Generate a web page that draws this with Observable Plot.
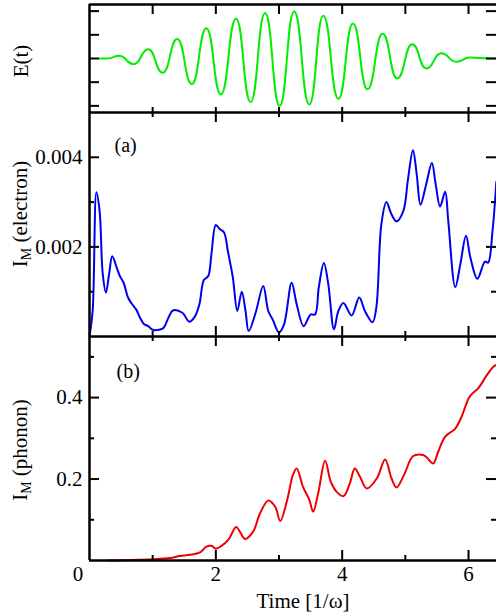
<!DOCTYPE html>
<html>
<head>
<meta charset="utf-8">
<script src="https://cdn.jsdelivr.net/npm/d3@7"></script>
<script src="https://cdn.jsdelivr.net/npm/@observablehq/plot@0.6"></script>
<style>
  html, body { margin: 0; padding: 0; background: #fff; }
  #wrap { position: relative; width: 496px; height: 615px; overflow: hidden; }
  #wrap svg { position: absolute; left: 0; }
  #wrap svg, #wrap svg text, #wrap svg tspan { font-family: "Liberation Serif", "Times New Roman", serif !important; }
</style>
</head>
<body>
<div id="wrap"></div>
<script>
// ---------- data ----------
const fieldT = [0.15, 0.29, 0.47, 0.70, 0.93, 1.16, 1.39, 1.62, 1.85, 2.08, 2.32, 2.55, 2.78, 3.01, 3.24, 3.48, 3.70, 3.94, 4.17, 4.40, 4.64, 4.87, 5.11, 5.33, 5.57, 5.81, 6.02, 6.33, 6.44];
const fieldV = [0, 0, 0.056, -0.12, 0.196, -0.30, 0.41, -0.54, 0.64, -0.76, 0.84, -0.92, 0.96, -1.0, 0.99, -0.97, 0.90, -0.85, 0.74, -0.65, 0.52, -0.42, 0.30, -0.21, 0.11, -0.07, 0.02, 0, 0];

const elecT = [0, 0.05, 0.11, 0.16, 0.21, 0.26, 0.31, 0.36, 0.43, 0.48, 0.54, 0.61, 0.67, 0.74, 0.80, 0.86, 0.93, 1.0, 1.1, 1.17, 1.25, 1.32, 1.47, 1.58, 1.67, 1.74, 1.81, 1.88, 1.93, 2.0, 2.06, 2.13, 2.19, 2.27, 2.34, 2.41, 2.47, 2.52, 2.63, 2.75, 2.83, 2.90, 3.0, 3.08, 3.2, 3.28, 3.39, 3.5, 3.57, 3.63, 3.71, 3.78, 3.87, 3.94, 4.02, 4.15, 4.27, 4.36, 4.48, 4.54, 4.62, 4.70, 4.78, 4.86, 4.97, 5.04, 5.12, 5.18, 5.24, 5.33, 5.42, 5.48, 5.55, 5.63, 5.68, 5.79, 5.87, 5.96, 6.03, 6.14, 6.26, 6.31, 6.38, 6.44];
const elecV = [0, 0.00057, 0.00322, 0.0028, 0.00139, 0.00098, 0.00139, 0.00179, 0.00154, 0.00135, 0.00120, 0.00087, 0.00073, 0.00060, 0.00042, 0.00028, 0.00023, 0.00015, 0.00015, 0.00019, 0.00042, 0.00058, 0.00053, 0.00033, 0.00045, 0.00072, 0.00126, 0.00135, 0.00184, 0.00249, 0.0024, 0.00232, 0.00191, 0.00131, 0.00057, 0.0010, 0.00057, 0.00012, 0.00053, 0.00113, 0.00057, 0.00038, 0.00009, 0.00027, 0.0012, 0.00072, 0.00023, 0.00049, 0.00049, 0.00110, 0.00164, 0.00117, 0.00016, 0.00057, 0.00075, 0.00047, 0.00087, 0.00057, 0.00032, 0.00064, 0.0025, 0.0030, 0.00273, 0.00257, 0.00281, 0.00349, 0.00416, 0.00362, 0.00294, 0.0034, 0.00387, 0.0034, 0.0029, 0.00323, 0.00257, 0.00110, 0.00161, 0.00225, 0.00176, 0.00129, 0.00167, 0.00165, 0.00236, 0.00345];

const phonT = [0.30, 1.0, 1.27, 1.43, 1.59, 1.75, 1.85, 1.93, 2.0, 2.09, 2.20, 2.32, 2.38, 2.46, 2.59, 2.70, 2.83, 2.94, 3.02, 3.13, 3.22, 3.28, 3.38, 3.48, 3.54, 3.62, 3.73, 3.82, 3.91, 4.02, 4.12, 4.20, 4.28, 4.39, 4.55, 4.68, 4.78, 4.86, 4.99, 5.12, 5.28, 5.34, 5.44, 5.52, 5.63, 5.79, 5.89, 6.02, 6.16, 6.29, 6.39, 6.44];
const phonV = [0, 0.003, 0.006, 0.011, 0.014, 0.020, 0.034, 0.036, 0.029, 0.036, 0.051, 0.082, 0.071, 0.053, 0.071, 0.116, 0.147, 0.132, 0.097, 0.149, 0.21, 0.226, 0.181, 0.149, 0.12, 0.165, 0.245, 0.193, 0.169, 0.158, 0.189, 0.226, 0.206, 0.177, 0.202, 0.248, 0.202, 0.179, 0.214, 0.256, 0.259, 0.253, 0.238, 0.267, 0.304, 0.324, 0.353, 0.403, 0.424, 0.455, 0.475, 0.48];

const xTickLabels = [2, 4, 6];
const xMajor = [2, 4, 6];
const xMinor = [1, 3, 5];
const xAll = [1, 2, 3, 4, 5, 6];
const fieldTicks = [-1, -0.5, 0, 0.5, 1];
const elecMajor = [0.002, 0.004];
const elecMinor = [0.001, 0.003];
const phonMajor = [0.2, 0.4];
const phonMinor = [0.1, 0.3, 0.5];

const field = fieldT.map((t, i) => ({t, v: fieldV[i]}));
const elec = elecT.map((t, i) => ({t, v: elecV[i]}));
const phon = phonT.map((t, i) => ({t, v: phonV[i]}));

// ---------- layout ----------
const W = 496, ML = 89, MR = 0;
const PW = W - ML - MR;
const xDomain = [0, PW / 63.17];
const FS = 21;
const FONT = '"Liberation Serif", "Times New Roman", serif';
const wrap = document.getElementById("wrap");
const baseStyle = {fontFamily: FONT, fontSize: FS + "px", overflow: "visible", background: "transparent", color: "black"};

function frameMarks(yDom, ph, opts) {
  const m = [];
  m.push(Plot.ruleX([0], {stroke: "black", strokeWidth: 2.5}));
  if (opts.top) m.push(Plot.ruleY([yDom[1]], {stroke: "black", strokeWidth: 2.5}));
  m.push(Plot.ruleY([yDom[0]], {stroke: "black", strokeWidth: 2.5}));
  for (const [vals, L] of opts.yTicks) {
    m.push(Plot.tickY(vals, {y: d => d, stroke: "black", strokeWidth: 2, insetRight: PW - L}));
    m.push(Plot.tickY(vals, {y: d => d, stroke: "black", strokeWidth: 2, insetLeft: PW - L}));
  }
  for (const [vals, L] of opts.xTop) {
    m.push(Plot.tickX(vals, {x: d => d, stroke: "black", strokeWidth: 2, insetBottom: ph - L}));
  }
  for (const [vals, L] of opts.xBottom) {
    m.push(Plot.tickX(vals, {x: d => d, stroke: "black", strokeWidth: 2, insetTop: ph - L}));
  }
  return m;
}

function addYLabel(svg, x, y, parts) {
  const t = d3.select(svg).append("text")
    .attr("transform", `translate(${x},${y}) rotate(-90)`)
    .attr("text-anchor", "middle")
    .style("font-family", FONT)
    .attr("font-size", FS)
    .attr("fill", "black");
  for (const p of parts) {
    const s = t.append("tspan").text(p.text);
    if (p.sub) s.attr("font-size", 14).attr("dy", 4);
    if (p.after) s.attr("dy", -4);
  }
}

// Panel 1: E(t)
{
  const H = 112, MT = 4, MB = 0, ph = H - MT - MB;
  const yDom = [-1.14, 1.14];
  const svg = Plot.plot({
    width: W, height: H, marginLeft: ML, marginRight: MR, marginTop: MT, marginBottom: MB,
    style: baseStyle,
    x: {domain: xDomain, axis: null},
    y: {domain: yDom, axis: null},
    marks: [
      Plot.line(field, {x: "t", y: "v", stroke: "#00ee00", strokeWidth: 2, curve: "bump-x"}),
      ...frameMarks(yDom, ph, {top: true, yTicks: [[fieldTicks, 10]], xTop: [[xAll, 10]], xBottom: [[xAll, 5]]})
    ]
  });
  svg.style.top = "0px";
  addYLabel(svg, 28, 61, [{text: "E(t)"}]);
  wrap.appendChild(svg);
}

// Panel 2: electron
{
  const H = 224, MT = 0, MB = 0, ph = H;
  const yDom = [0, 0.005];
  const svg = Plot.plot({
    width: W, height: H, marginLeft: ML, marginRight: MR, marginTop: MT, marginBottom: MB,
    style: baseStyle,
    x: {domain: xDomain, axis: null},
    y: {domain: yDom, axis: null},
    marks: [
      Plot.line(elec, {x: "t", y: "v", stroke: "#0000ee", strokeWidth: 2, curve: "catmull-rom"}),
      Plot.axisY(elecMajor, {tickSize: 0, tickPadding: 7, label: null, tickFormat: d3.format(".3f"), fill: "black", fontSize: FS}),
      Plot.text(["(a)"], {frameAnchor: "top-left", textAnchor: "start", lineAnchor: "middle", dx: 25, dy: 33, fontSize: 20}),
      ...frameMarks(yDom, ph, {top: false, yTicks: [[elecMajor, 10], [elecMinor, 5]], xTop: [[xMajor, 10], [xMinor, 5]], xBottom: [[xMajor, 10], [xMinor, 5]]})
    ]
  });
  svg.style.top = "112px";
  addYLabel(svg, 27, 102, [{text: "I"}, {text: "M", sub: true}, {text: " (electron)", after: true}]);
  wrap.appendChild(svg);
}

// Panel 3: phonon
{
  const H = 279, MT = 0, MB = 55, ph = H - MT - MB;
  const yDom = [0, 0.55];
  const svg = Plot.plot({
    width: W, height: H, marginLeft: ML, marginRight: MR, marginTop: MT, marginBottom: MB,
    style: baseStyle,
    x: {domain: xDomain, axis: null},
    y: {domain: yDom, axis: null},
    marks: [
      Plot.line(phon, {x: "t", y: "v", stroke: "#ee0000", strokeWidth: 2, curve: "catmull-rom"}),
      Plot.axisY(phonMajor, {tickSize: 0, tickPadding: 7, label: null, tickFormat: d3.format(".1f"), fill: "black", fontSize: FS}),
      Plot.axisX(xTickLabels, {tickSize: 0, tickPadding: 6, label: null, fill: "black", fontSize: FS}),
      Plot.axisX([0], {tickSize: 0, tickPadding: 6, label: null, dx: -11.5, fill: "black", fontSize: FS}),
      Plot.text(["Time [1/ω]"], {frameAnchor: "bottom", lineAnchor: "middle", dx: 10, dy: 41, fontSize: FS}),
      Plot.text(["(b)"], {frameAnchor: "top-left", textAnchor: "start", lineAnchor: "middle", dx: 27, dy: 35.5, fontSize: 20}),
      ...frameMarks(yDom, ph, {top: false, yTicks: [[phonMajor, 10], [phonMinor, 5]], xTop: [[xMajor, 10], [xMinor, 5]], xBottom: [[xMajor, 10], [xMinor, 5]]})
    ]
  });
  svg.style.top = "336px";
  addYLabel(svg, 27, 114, [{text: "I"}, {text: "M", sub: true}, {text: " (phonon)", after: true}]);
  wrap.appendChild(svg);
}
</script>
</body>
</html>
